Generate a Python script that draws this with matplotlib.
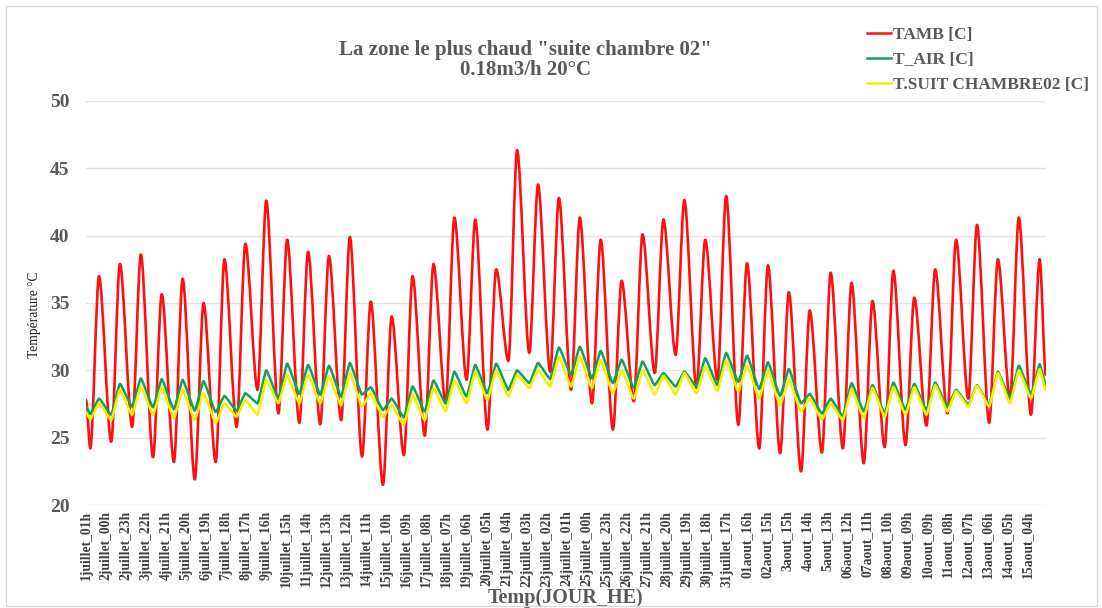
import matplotlib
matplotlib.use("Agg")
import matplotlib.pyplot as plt
from matplotlib.patches import Rectangle, PathPatch
from matplotlib.path import Path
from matplotlib.lines import Line2D

# Daily extremes (trough before the afternoon peak, then the peak), 1 July -> 15 August
tamb_min = [24.2, 24.7, 25.8, 23.55, 23.2, 21.9, 23.2, 25.8, 28.55, 26.8,
            26.1, 26.0, 26.3, 23.6, 21.5, 23.7, 25.15, 27.55, 29.3, 25.6,
            30.7, 31.3, 29.9, 28.55, 27.55, 25.6, 27.7, 29.8, 31.15, 28.7,
            29.3, 25.95, 24.2, 23.85, 22.5, 23.9, 24.2, 23.1, 24.3, 24.45,
            25.9, 26.8, 27.9, 26.1, 27.8, 26.7]
tamb_max = [37.0, 37.9, 38.6, 35.65, 36.8, 35.0, 38.25, 39.4, 42.6, 39.7,
            38.8, 38.5, 39.9, 35.1, 34.0, 37.0, 37.9, 41.35, 41.2, 37.5,
            46.35, 43.8, 42.8, 41.35, 39.7, 36.65, 40.1, 41.2, 42.65, 39.7,
            42.95, 37.95, 37.8, 35.8, 34.45, 37.25, 36.5, 35.15, 37.4, 35.4,
            37.5, 39.7, 40.8, 38.25, 41.35, 38.25]
tamb_ends = [27.8, 29.65]

tair_min = [26.75, 26.7, 27.3, 27.25, 27.1, 27.0, 26.9, 27.0, 27.55, 27.9,
            28.25, 28.2, 28.05, 28.2, 27.05, 26.5, 26.95, 27.55, 28.05, 28.3,
            28.55, 29.05, 29.35, 29.65, 29.4, 29.05, 28.7, 28.9, 28.8, 28.8,
            28.9, 29.15, 28.6, 28.1, 27.55, 26.8, 26.6, 26.95, 26.8, 27.05,
            27.05, 27.3, 27.45, 27.45, 27.9, 28.2]
tair_max = [27.9, 29.0, 29.4, 29.35, 29.3, 29.2, 28.1, 28.3, 30.0, 30.5,
            30.4, 30.35, 30.55, 28.75, 27.9, 28.8, 29.25, 29.9, 30.4, 30.5,
            30.0, 30.55, 31.7, 31.75, 31.45, 30.8, 30.65, 29.8, 29.9, 30.9,
            31.3, 31.1, 30.6, 30.1, 28.25, 27.9, 29.05, 28.9, 29.1, 29.0,
            29.1, 28.55, 28.9, 29.9, 30.35, 30.45]
tair_ends = [27.3, 28.9]

tsuit_min = [26.35, 26.3, 26.7, 26.7, 26.45, 26.3, 26.1, 26.55, 26.7, 27.55,
             27.55, 27.55, 27.4, 27.3, 26.55, 25.95, 26.3, 26.95, 27.55, 27.8,
             28.05, 28.7, 28.8, 28.8, 28.7, 28.3, 27.9, 28.2, 28.2, 28.3,
             28.45, 28.45, 27.9, 27.4, 26.95, 26.35, 26.3, 26.45, 26.55, 26.7,
             26.7, 26.95, 27.3, 27.3, 27.55, 27.9]
tsuit_max = [27.55, 28.55, 28.8, 28.7, 28.55, 28.3, 27.55, 27.8, 29.3, 29.65,
             29.65, 29.55, 29.8, 28.3, 27.4, 28.2, 28.7, 29.25, 29.9, 30.0,
             29.65, 30.0, 31.0, 31.0, 30.75, 30.0, 30.0, 29.6, 29.8, 30.3,
             30.75, 30.35, 30.0, 29.35, 27.9, 27.55, 28.6, 28.7, 28.75, 28.75,
             28.9, 28.45, 28.85, 29.8, 30.0, 30.1]
tsuit_ends = [26.9, 28.5]

tick_labels = ["1juillet_01h", "2juillet_00h", "2juillet_23h", "3juillet_22h",
               "4juillet_21h", "5juillet_20h", "6juillet_19h", "7juillet_18h",
               "8juillet_17h", "9juillet_16h", "10juillet_15h", "11juillet_14h",
               "12juillet_13h", "13juillet_12h", "14juillet_11h", "15juillet_10h",
               "16juillet_09h", "17juillet_08h", "18juillet_07h", "19juillet_06h",
               "20juillet_05h", "21juillet_04h", "22juillet_03h", "23juillet_02h",
               "24juillet_01h", "25juillet_00h", "25juillet_23h", "26juillet_22h",
               "27juillet_21h", "28juillet_20h", "29juillet_19h", "30juillet_18h",
               "31juillet_17h", "01aout_16h", "02aout_15h", "3aout_15h",
               "4aout_14h", "5aout_13h", "06aout_12h", "07aout_11h",
               "08aout_10h", "09aout_09h", "10aout_09h", "11aout_08h",
               "12aout_07h", "13aout_06h", "14aout_05h", "15aout_04h"]

TROUGH_HOUR = 5     # hours after 1juillet_01h, within each day
PEAK_HOUR = 15
LAST_HOUR = 1102
TICK_STEP = 23


def series(lows, highs, ends):
    hours, vals = [0], [ends[0]]
    for d, (lo, hi) in enumerate(zip(lows, highs)):
        hours += [24 * d + TROUGH_HOUR, 24 * d + PEAK_HOUR]
        vals += [lo, hi]
    hours.append(LAST_HOUR)
    vals.append(ends[1])
    return hours, vals


def smooth_line(ax, hours, vals, k, **kw):
    """Smoothed line through the extremes (flat tangent at each turning point)."""
    verts = [(hours[0], vals[0])]
    codes = [Path.MOVETO]
    for x0, y0, x1, y1 in zip(hours[:-1], vals[:-1], hours[1:], vals[1:]):
        dx = x1 - x0
        verts += [(x0 + k * dx, y0), (x1 - k * dx, y1), (x1, y1)]
        codes += [Path.CURVE4] * 3
    ax.add_patch(PathPatch(Path(verts, codes), fill=False, capstyle="round",
                           joinstyle="round", transform=ax.transData, **kw))


serif = "Liberation Serif"
grey = "#595959"
c_amb, c_air, c_suit = "#ff1010", "#15a05a", "#f5f000"

fig = plt.figure(figsize=(11.02, 6.08), dpi=100)
fig.patches.append(Rectangle((0.0054, 0.0035), 0.990, 0.9865, transform=fig.transFigure,
                             fill=False, edgecolor="#d9d9d9", linewidth=1.0))
ax = fig.add_axes([0.078, 0.1694, 0.871, 0.6645])

h, v = series(tamb_min, tamb_max, tamb_ends)
smooth_line(ax, h, v, 0.3, edgecolor=c_amb, lw=1.9, zorder=2)
h, v = series(tair_min, tair_max, tair_ends)
smooth_line(ax, h, v, 0.12, edgecolor=c_air, lw=1.8, zorder=3)
h, v = series(tsuit_min, tsuit_max, tsuit_ends)
smooth_line(ax, h, v, 0.12, edgecolor=c_suit, lw=1.8, zorder=4)

ax.set_xlim(0, LAST_HOUR)
ax.set_ylim(20, 50)
ax.set_yticks(range(20, 51, 5))
ax.set_xticks([i * TICK_STEP for i in range(len(tick_labels))])
ax.set_xticklabels(tick_labels, rotation=90, fontsize=9.8, fontweight="bold",
                   family=serif, color="#404040")
for lab in ax.get_yticklabels():
    lab.set_fontfamily(serif)
    lab.set_fontweight("bold")
    lab.set_fontsize(14)
    lab.set_color(grey)
ax.tick_params(axis="both", length=0)
ax.tick_params(axis="y", pad=12)
ax.tick_params(axis="x", pad=4)
ax.grid(axis="y", color="#e3e3e3", lw=1.0)
ax.set_axisbelow(True)
for s in ax.spines.values():
    s.set_visible(False)

ax.set_ylabel("Température °C", family=serif, fontsize=9.8, color="#262626",
              labelpad=6, y=0.47)
ax.set_xlabel("Temp(JOUR_HE)", family=serif, fontsize=14.5, fontweight="bold",
              color=grey, labelpad=1)

fig.text(0.477, 0.902, "La zone le plus chaud \"suite chambre 02\"\n0.18m3/h 20°C",
         ha="center", va="center", family=serif, fontsize=15, fontweight="bold",
         color=grey, linespacing=1.0)

handles = [Line2D([], [], color=c, lw=1.8) for c in (c_amb, c_air, c_suit)]
labels = ["TAMB [C]", "T_AIR [C]", "T.SUIT CHAMBRE02 [C]"]
leg = fig.legend(handles, labels, loc="upper left", bbox_to_anchor=(0.773, 0.981),
                 frameon=False, handlelength=1.35, handletextpad=0.1, labelspacing=0.5,
                 prop={"family": serif, "weight": "bold", "size": 12.5})
for t in leg.get_texts():
    t.set_color(grey)

fig.savefig("out.png", dpi=100)
